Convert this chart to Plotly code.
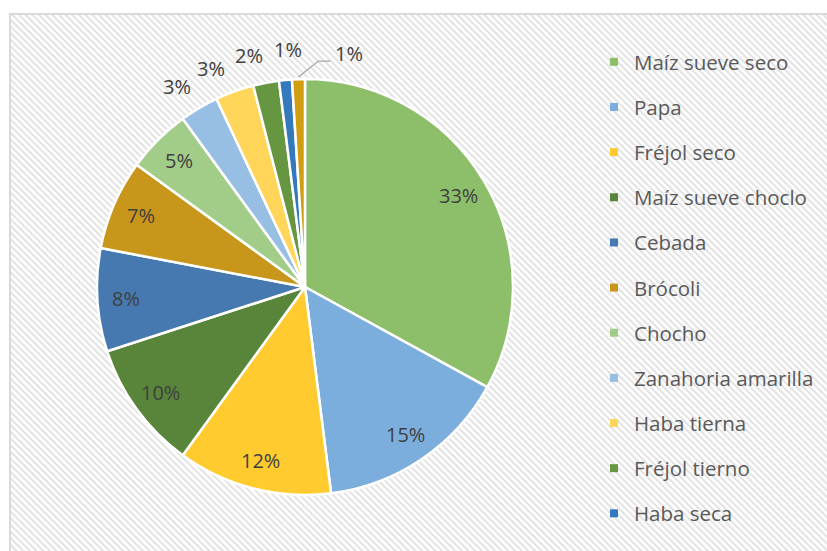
import base64
import math
import plotly.graph_objects as go

W, H = 827, 551

# ---- data ----
labels = ["Maíz sueve seco", "Papa", "Fréjol seco", "Maíz sueve choclo", "Cebada",
          "Brócoli", "Chocho", "Zanahoria amarilla", "Haba tierna", "Fréjol tierno",
          "Haba seca", "Otros"]
values = [33, 15, 12, 10, 8, 7, 5, 3, 3, 2, 1, 1]
colors = ["#8DBF6A", "#7BAEDD", "#FFCB2E", "#58853A", "#4579B0", "#C9961C",
          "#A2CD88", "#97BFE4", "#FFD659", "#66963F", "#3479BC", "#D19E12"]
legend_labels = labels[:11]
outside = [False] * 7 + [True] * 5

# ---- hatch background (svg) ----
bx, by = 9, 13
bw, bh = W - bx + 4, H - by + 4
svg = f'''<svg xmlns="http://www.w3.org/2000/svg" width="{bw}" height="{bh}" viewBox="0 0 {bw} {bh}">
<defs><pattern id="p" width="4.7" height="4.7" patternUnits="userSpaceOnUse" patternTransform="rotate(-45)">
<rect width="4.7" height="4.7" fill="#FFFFFF"/><rect width="2.1" height="4.7" fill="#E3E3E3"/></pattern></defs>
<rect x="0" y="0" width="{bw}" height="{bh}" fill="url(#p)"/>
<rect x="1" y="1" width="{bw}" height="{bh}" fill="none" stroke="#D9D9D9" stroke-width="2"/>
</svg>'''
src = "data:image/svg+xml;base64," + base64.b64encode(svg.encode()).decode()

fig = go.Figure()

cx, cy, r = 305, 287, 208
fig.add_trace(go.Pie(
    labels=labels, values=values, sort=False, direction="clockwise", rotation=0,
    marker=dict(colors=colors, line=dict(color="white", width=2.5)),
    textinfo="none",
    showlegend=False, hoverinfo="label+percent",
    domain=dict(x=[(cx - r) / W, (cx + r) / W], y=[1 - (cy + r) / H, 1 - (cy - r) / H]),
))

for i, lab in enumerate(legend_labels):
    fig.add_trace(go.Scatter(
        x=[None], y=[None], mode="markers", name=lab, legendgroup=lab,
        marker=dict(symbol="square", size=8, color=colors[i]),
    ))

# percentage labels placed from the data (cumulative angles)
out_shift_deg = [-2.0, -3.4, -2.9, 1.4]   # spread small outside labels apart
total = sum(values)
annotations = []
shapes = []
cum = 0.0
k_out = 0
for i, v in enumerate(values):
    mid = (cum + v / 2) / total * 2 * math.pi
    cum += v
    pct = f"{round(v / total * 100)}%"
    font = dict(family="Open Sans", size=20, color="#404040")
    common = dict(xref="paper", yref="paper", showarrow=False, font=font,
                  xanchor="center", yanchor="middle")
    if not outside[i]:
        d = 0.86 * r
        px, py = cx + d * math.sin(mid), cy - d * math.cos(mid)
        annotations.append(dict(x=px / W, y=1 - py / H, text=pct, **common))
    elif i == len(values) - 1:
        # last small slice: label moved right with a leader line
        x0, y0 = cx + (r + 2) * math.sin(mid), cy - (r + 2) * math.cos(mid)
        x1, y1 = x0 + 20, y0 - 16
        x2 = x1 + 12
        shapes.append(dict(type="path", xref="paper", yref="paper",
                           path=f"M {x0/W},{1-y0/H} L {x1/W},{1-y1/H} L {x2/W},{1-y1/H}",
                           line=dict(color="#A6A6A6", width=1.3)))
        c = dict(common, xanchor="left")
        annotations.append(dict(x=(x2 + 3) / W, y=1 - (y1 - 8) / H, text=pct, **c))
    else:
        a = mid + math.radians(out_shift_deg[k_out])
        k_out += 1
        d = r + 30
        px, py = cx + d * math.sin(a), cy - d * math.cos(a)
        annotations.append(dict(x=px / W, y=1 - py / H, text=pct, **common))

fig.update_layout(
    width=W, height=H,
    margin=dict(l=0, r=0, t=0, b=0, autoexpand=False),
    paper_bgcolor="white", plot_bgcolor="rgba(0,0,0,0)",
    xaxis=dict(visible=False), yaxis=dict(visible=False),
    legend=dict(x=594 / W, y=1 - 42 / H, xanchor="left", yanchor="top",
                bgcolor="rgba(0,0,0,0)", tracegroupgap=15.5, itemwidth=30,
                font=dict(family="Open Sans", size=20.5, color="#595959")),
    annotations=annotations,
    shapes=shapes,
    images=[dict(source=src, xref="paper", yref="paper", x=bx / W, y=1 - by / H,
                 sizex=bw / W, sizey=bh / H, xanchor="left", yanchor="top",
                 sizing="stretch", layer="below")],
)

fig.write_html("out.html", config={"displayModeBar": False},
               post_script="document.body.style.margin='0';document.body.style.overflow='hidden';")
